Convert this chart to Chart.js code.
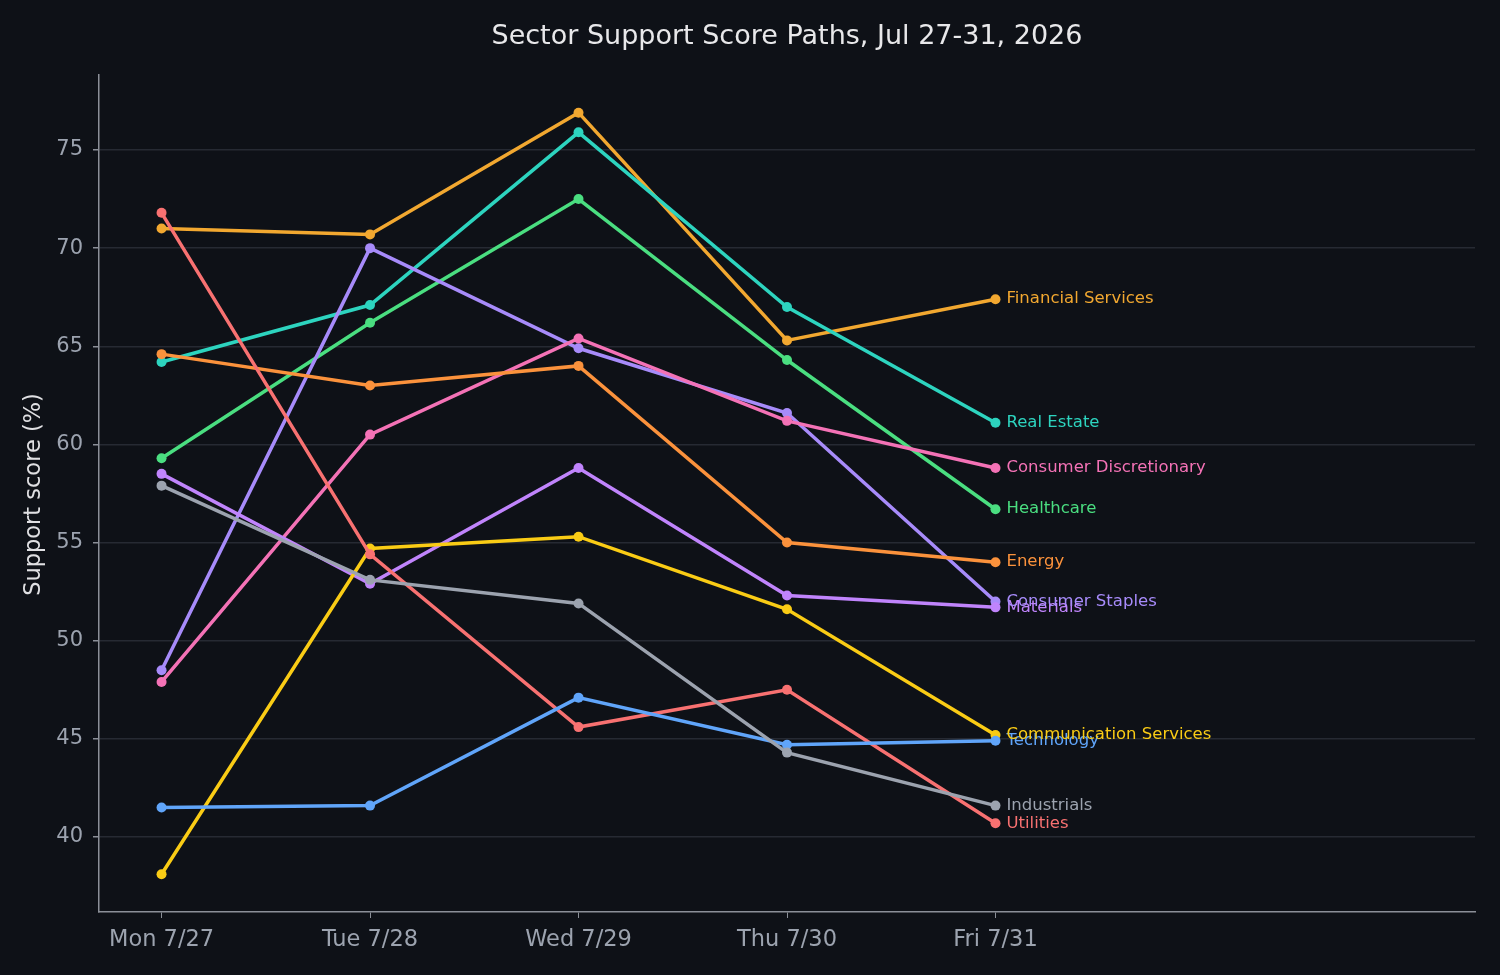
<!DOCTYPE html>
<html>
<head>
<meta charset="utf-8">
<script src="https://cdn.jsdelivr.net/npm/chart.js@4.4.1/dist/chart.umd.min.js"></script>
<style>
html,body{margin:0;padding:0;background:#0e1117;}
#wrap{width:1500px;height:975px;position:relative;}
</style>
</head>
<body>
<div id="wrap"><canvas id="c" width="1500" height="975"></canvas></div>
<script>
const days = ["Mon 7/27", "Tue 7/28", "Wed 7/29", "Thu 7/30", "Fri 7/31"];
const yTicks = [40, 45, 50, 55, 60, 65, 70, 75];

const financialServices = [71.0, 70.7, 76.9, 65.3, 67.4];
const realEstate = [64.2, 67.1, 75.9, 67.0, 61.1];
const healthcare = [59.3, 66.2, 72.5, 64.3, 56.7];
const consumerDiscretionary = [47.9, 60.5, 65.4, 61.2, 58.8];
const consumerStaples = [48.5, 70.0, 64.9, 61.6, 52.0];
const materials = [58.5, 52.9, 58.8, 52.3, 51.7];
const energy = [64.6, 63.0, 64.0, 55.0, 54.0];
const communicationServices = [38.1, 54.7, 55.3, 51.6, 45.2];
const technology = [41.5, 41.6, 47.1, 44.7, 44.9];
const industrials = [57.9, 53.1, 51.9, 44.3, 41.6];
const utilities = [71.8, 54.4, 45.6, 47.5, 40.7];

const seriesNames = ["Industrials", "Technology", "Utilities", "Communication Services", "Materials", "Energy",
  "Consumer Discretionary", "Consumer Staples", "Healthcare", "Real Estate", "Financial Services"];
const seriesValues = [industrials, technology, utilities, communicationServices, materials, energy,
  consumerDiscretionary, consumerStaples, healthcare, realEstate, financialServices];
const seriesColors = ["#9ca3af", "#60a5fa", "#f87171", "#facc15", "#c084fc", "#fb923c",
  "#f472b6", "#a78bfa", "#4ade80", "#2dd4bf", "#f2a830"];

const FONT = "'DejaVu Sans', sans-serif";

const datasets = seriesNames.map((name, i) => ({
  label: name,
  data: seriesValues[i].map((v, j) => ({x: j, y: v})),
  borderColor: seriesColors[i],
  backgroundColor: seriesColors[i],
  pointBackgroundColor: seriesColors[i],
  pointBorderColor: seriesColors[i],
  borderWidth: 3.5,
  pointRadius: 5,
  pointBorderWidth: 0,
  tension: 0
}));

const decor = {
  id: 'decor',
  afterDatasetsDraw(chart) {
    const ctx = chart.ctx;
    ctx.save();
    ctx.font = "16.5px " + FONT;
    ctx.textAlign = 'left';
    ctx.textBaseline = 'middle';
    chart.data.datasets.forEach((ds, i) => {
      const meta = chart.getDatasetMeta(i);
      const pt = meta.data[meta.data.length - 1];
      ctx.fillStyle = ds.borderColor;
      ctx.fillText(ds.label, pt.x + 11, pt.y);
    });
    ctx.restore();
  },
  afterDraw(chart) {
    const ctx = chart.ctx;
    const a = chart.chartArea;
    ctx.save();
    ctx.fillStyle = '#e8e8ea';
    ctx.font = "27px " + FONT;
    ctx.textAlign = 'center';
    ctx.textBaseline = 'middle';
    ctx.fillText("Sector Support Score Paths, Jul 27-31, 2026", (a.left + a.right) / 2, 37);
    ctx.translate(34, (a.top + a.bottom) / 2 + 1);
    ctx.rotate(-Math.PI / 2);
    ctx.font = "22.5px " + FONT;
    ctx.fillStyle = '#e0e0e3';
    ctx.fillText("Support score (%)", 0, 0);
    ctx.restore();
  }
};

const bg = {
  id: 'bg',
  beforeDraw(chart) {
    const ctx = chart.ctx;
    ctx.save();
    ctx.fillStyle = '#0e1117';
    ctx.fillRect(0, 0, chart.width, chart.height);
    ctx.restore();
  }
};

new Chart(document.getElementById('c'), {
  type: 'line',
  data: {datasets},
  options: {
    responsive: false,
    animation: false,
    devicePixelRatio: 1,
    layout: {padding: {top: 75, right: 25, left: 0, bottom: 0}},
    plugins: {legend: {display: false}, title: {display: false}, tooltip: {enabled: false}},
    scales: {
      x: {
        type: 'linear',
        min: -0.3,
        max: 6.3,
        afterBuildTicks(scale) { scale.ticks = days.map((d, i) => ({value: i})); },
        afterFit(scale) { scale.height = 63; },
        ticks: {
          color: '#9ca3af',
          font: {family: FONT, size: 22.5},
          padding: 9,
          maxRotation: 0,
          autoSkip: false,
          callback: (v) => days[v] !== undefined ? days[v] : ''
        },
        grid: {display: true, drawOnChartArea: false, drawTicks: true, tickLength: 6, tickColor: '#8b8f98'},
        border: {display: true, color: '#8b8f98', width: 1.5}
      },
      y: {
        min: 36.18,
        max: 78.82,
        afterBuildTicks(scale) { scale.ticks = yTicks.map(v => ({value: v})); },
        afterFit(scale) { scale.width = 99; },
        ticks: {
          color: '#9ca3af',
          font: {family: FONT, size: 21},
          padding: 10
        },
        grid: {color: '#262a33', lineWidth: 1.5, tickLength: 6, tickColor: '#8b8f98'},
        border: {display: true, color: '#8b8f98', width: 1.5}
      }
    }
  },
  plugins: [bg, decor]
});
</script>
</body>
</html>
